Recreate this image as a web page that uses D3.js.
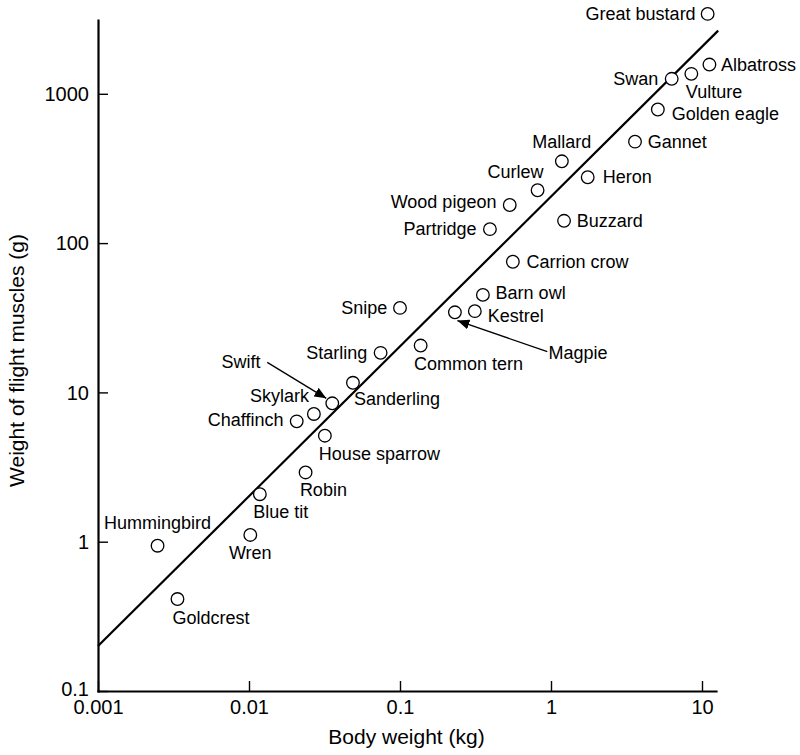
<!DOCTYPE html>
<html>
<head>
<meta charset="utf-8">
<script src="https://cdn.jsdelivr.net/npm/d3@7"></script>
<style>
  html, body { margin: 0; padding: 0; background: #fff; }
  svg { display: block; font-family: "Liberation Sans", Arial, Helvetica, sans-serif; }
</style>
</head>
<body>
<svg id="chart" width="800" height="755"></svg>
<script>
// Flight-muscle weight against body weight for 29 bird species (log–log)
const birds = [
  "Great bustard", "Albatross", "Vulture", "Swan", "Golden eagle", "Gannet",
  "Mallard", "Heron", "Curlew", "Wood pigeon", "Partridge", "Buzzard",
  "Carrion crow", "Barn owl", "Kestrel", "Magpie", "Common tern", "Snipe",
  "Starling", "Sanderling", "Swift", "Skylark", "Chaffinch", "House sparrow",
  "Robin", "Blue tit", "Wren", "Hummingbird", "Goldcrest"
];
const bodyWeightKg = [
  10.9, 11.2, 8.5, 6.3, 5.1, 3.6,
  1.18, 1.75, 0.815, 0.533, 0.394, 1.22,
  0.559, 0.354, 0.313, 0.231, 0.137, 0.1,
  0.0744, 0.0488, 0.0356, 0.0269, 0.0207, 0.0318,
  0.0237, 0.0118, 0.0102, 0.00248, 0.00336
];
const muscleWeightG = [
  3430, 1570, 1360, 1260, 785, 478,
  353, 276, 226, 180, 124, 141,
  75, 45, 35, 34.4, 20.6, 36.8,
  18.4, 11.6, 8.45, 7.17, 6.4, 5.13,
  2.91, 2.08, 1.11, 0.94, 0.413
];
const xTickValues = [0.001, 0.01, 0.1, 1, 10];
const xTickLabels = ["0.001", "0.01", "0.1", "1", "10"];
const yTickValues = [0.1, 1, 10, 100, 1000];
const yTickLabels = ["0.1", "1", "10", "100", "1000"];
// fitted line endpoints [body weight kg, muscle weight g]
const fitLine = [[0.001, 0.2], [12.8, 2650]];

// label placement around each circle: offset in px and text anchor
const labelPlacement = {
  "Great bustard": [-12, 6.5, "end"],
  "Albatross": [11.5, 6, "start"],
  "Vulture": [-5.5, 24, "start"],
  "Swan": [-13.5, 6, "end"],
  "Golden eagle": [14, 11, "start"],
  "Gannet": [12.7, 6.3, "start"],
  "Mallard": [0, -13.3, "middle"],
  "Heron": [15, 6, "start"],
  "Curlew": [6, -12.3, "end"],
  "Wood pigeon": [-13.3, 3, "end"],
  "Partridge": [-13.3, 6, "end"],
  "Buzzard": [12.7, 6, "start"],
  "Carrion crow": [13.7, 6, "start"],
  "Barn owl": [12.7, 4.3, "start"],
  "Kestrel": [13, 10.4, "start"],
  "Magpie": [93.7, 46.7, "start"],
  "Common tern": [-6.7, 24.3, "start"],
  "Snipe": [-12.8, 6, "end"],
  "Starling": [-13.3, 6, "end"],
  "Sanderling": [1, 22.7, "start"],
  "Swift": [-71.7, -35.3, "end"],
  "Skylark": [-5, -11.7, "end"],
  "Chaffinch": [-13.3, 5, "end"],
  "House sparrow": [-6, 24, "start"],
  "Robin": [-5.7, 23.4, "start"],
  "Blue tit": [-6.6, 24, "start"],
  "Wren": [0, 24.3, "middle"],
  "Hummingbird": [0, -16.7, "middle"],
  "Goldcrest": [-5, 25, "start"]
};
// leader arrows: start and tip offsets from the circle centre
const arrowPlacement = {
  "Swift": { from: [-65, -41], tip: [-6, -5] },
  "Magpie": { from: [92.4, 39.4], tip: [2.5, 8.3] }
};

const svg = d3.select("#chart");

const x = d3.scaleLog()
  .domain([0.001, Math.pow(10, 1 + 14 / 151)])
  .range([98, 716]);
const y = d3.scaleLog()
  .domain([0.1, Math.pow(10, -1 + 671 / 149.3)])
  .range([691, 20]);

const data = birds.map((name, i) => ({ name, m: bodyWeightKg[i], f: muscleWeightG[i] }));

// arrowhead
svg.append("defs").append("marker")
  .attr("id", "head")
  .attr("markerUnits", "userSpaceOnUse")
  .attr("viewBox", "0 0 12 10")
  .attr("refX", 12).attr("refY", 5)
  .attr("markerWidth", 12).attr("markerHeight", 10)
  .attr("orient", "auto")
  .append("path")
  .attr("d", "M0,0 L12,5 L0,10 Z")
  .attr("fill", "#000");

// axes
const xAxis = d3.axisBottom(x)
  .tickValues(xTickValues)
  .tickFormat((d, i) => xTickLabels[i])
  .tickSizeInner(-10).tickSizeOuter(0).tickPadding(9);
const yAxis = d3.axisLeft(y)
  .tickValues(yTickValues)
  .tickFormat((d, i) => yTickLabels[i])
  .tickSizeInner(-10).tickSizeOuter(0).tickPadding(9);

const gx = svg.append("g").attr("transform", `translate(0,${y(0.1)})`).call(xAxis);
const gy = svg.append("g").attr("transform", `translate(${x(0.001)},0)`).call(yAxis);

[gx, gy].forEach(g => {
  g.select(".domain").attr("stroke", "#000").attr("stroke-width", 2.2).attr("stroke-linecap", "square");
  g.selectAll(".tick line").attr("stroke", "#000").attr("stroke-width", 1.4);
  g.selectAll(".tick text").attr("fill", "#000").attr("font-size", 20)
    .attr("font-family", "\"Liberation Sans\", Arial, Helvetica, sans-serif");
});
gy.selectAll(".tick text").attr("dy", "0.34em");
// the lowest y label sits in the corner, just above the first x label
gy.selectAll(".tick text").filter(d => d === yTickValues[0]).attr("dy", "0.2em");

// axis titles
svg.append("text")
  .attr("x", 406.5).attr("y", 744)
  .attr("text-anchor", "middle")
  .attr("font-size", 21)
  .text("Body weight (kg)");
svg.append("text")
  .attr("transform", "translate(24,360.5) rotate(-90)")
  .attr("text-anchor", "middle")
  .attr("font-size", 21)
  .text("Weight of flight muscles (g)");

// fitted line
svg.append("line")
  .attr("x1", x(fitLine[0][0])).attr("y1", y(fitLine[0][1]))
  .attr("x2", x(fitLine[1][0])).attr("y2", y(fitLine[1][1]))
  .attr("stroke", "#000").attr("stroke-width", 2.2);

// leader arrows
data.filter(d => arrowPlacement[d.name]).forEach(d => {
  const a = arrowPlacement[d.name];
  const cx = x(d.m), cy = y(d.f);
  svg.append("line")
    .attr("x1", cx + a.from[0]).attr("y1", cy + a.from[1])
    .attr("x2", cx + a.tip[0]).attr("y2", cy + a.tip[1])
    .attr("stroke", "#000").attr("stroke-width", 1.3)
    .attr("marker-end", "url(#head)");
});

// points
svg.append("g").selectAll("circle")
  .data(data)
  .join("circle")
  .attr("cx", d => x(d.m))
  .attr("cy", d => y(d.f))
  .attr("r", 6.3)
  .attr("fill", "#fff")
  .attr("stroke", "#000")
  .attr("stroke-width", 1.3);

// species labels
svg.append("g").selectAll("text")
  .data(data)
  .join("text")
  .attr("x", d => x(d.m) + labelPlacement[d.name][0])
  .attr("y", d => y(d.f) + labelPlacement[d.name][1])
  .attr("text-anchor", d => labelPlacement[d.name][2])
  .attr("font-size", 18)
  .attr("fill", "#000")
  .text(d => d.name);
</script>
</body>
</html>
